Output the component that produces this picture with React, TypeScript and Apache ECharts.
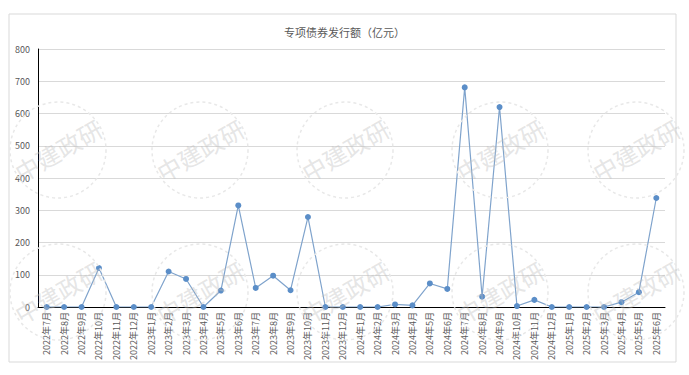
import React, { useEffect, useRef } from "react";
import * as echarts from "echarts";

const categories: string[] = [
  "2022年7月", "2022年8月", "2022年9月", "2022年10月", "2022年11月", "2022年12月",
  "2023年1月", "2023年2月", "2023年3月", "2023年4月", "2023年5月", "2023年6月",
  "2023年7月", "2023年8月", "2023年9月", "2023年10月", "2023年11月", "2023年12月",
  "2024年1月", "2024年2月", "2024年3月", "2024年4月", "2024年5月", "2024年6月",
  "2024年7月", "2024年8月", "2024年9月", "2024年10月", "2024年11月", "2024年12月",
  "2025年1月", "2025年2月", "2025年3月", "2025年4月", "2025年5月", "2025年6月",
];

const issuance: number[] = [
  0, 0, 0, 121, 0, 0,
  0, 110, 87, 0, 51, 315,
  59, 97, 52, 279, 0, 0,
  0, 0, 8, 5, 73, 56,
  681, 32, 620, 3, 22, 0,
  0, 0, 0, 15, 46, 338,
];

const yTicks = { min: 0, max: 800, interval: 100 };

const watermarkX = [58, 200, 345, 500, 636];
const watermarkY = [150, 292];

export default function App() {
  const ref = useRef<HTMLDivElement>(null);
  useEffect(() => {
    document.body.style.margin = "0";
    if (!ref.current) return;
    const chart = echarts.init(ref.current, null, { renderer: "svg" });
    const font = "'Noto Sans CJK SC', 'Noto Sans', sans-serif";
    const marks: any[] = [];
    watermarkY.forEach((cy) =>
      watermarkX.forEach((cx) => {
        marks.push({
          type: "circle",
          shape: { cx, cy, r: 48 },
          style: { fill: "none", stroke: "#e8e8e8", lineWidth: 1.5, lineDash: [3, 3] },
          silent: true,
          z: 100,
        });
        marks.push({
          type: "text",
          x: cx,
          y: cy,
          rotation: Math.PI / 6,
          silent: true,
          z: 100,
          style: {
            text: "中建政研",
            fontSize: 24,
            fontFamily: font,
            fill: "rgba(190,190,190,0.4)",
            align: "center",
            verticalAlign: "middle",
          },
        });
      })
    );
    marks.push({
      type: "rect",
      shape: { x: 9, y: 14, width: 667, height: 348 },
      style: { fill: "none", stroke: "#d9d9d9", lineWidth: 1 },
      silent: true,
      z: -1,
    });
    chart.setOption({
      animation: false,
      backgroundColor: "#ffffff",
      title: {
        text: "专项债券发行额（亿元）",
        left: "center",
        top: 21,
        textStyle: { fontSize: 11, fontWeight: "normal", color: "#595959", fontFamily: font },
      },
      grid: { left: 38, right: 24, top: 49, bottom: 68 },
      xAxis: {
        type: "category",
        data: categories,
        boundaryGap: true,
        axisLine: { lineStyle: { color: "#000000", width: 1 } },
        axisTick: { inside: true, length: 3, lineStyle: { color: "#000000" } },
        axisLabel: {
          interval: 0,
          rotate: 90,
          fontSize: 9,
          color: "#595959",
          fontFamily: font,
          margin: 5,
        },
      },
      yAxis: {
        type: "value",
        min: yTicks.min,
        max: yTicks.max,
        interval: yTicks.interval,
        axisLine: { show: true, lineStyle: { color: "#000000", width: 1 } },
        axisTick: { show: false },
        axisLabel: { fontSize: 9, color: "#595959", fontFamily: font, margin: 8 },
        splitLine: { lineStyle: { color: "#d9d9d9", width: 1 } },
      },
      series: [
        {
          type: "line",
          data: issuance,
          symbol: "circle",
          symbolSize: 6,
          lineStyle: { color: "#7fa3cc", width: 1.2 },
          itemStyle: { color: "#5b8ec8" },
          z: 3,
        },
      ],
      graphic: marks,
    });
    return () => chart.dispose();
  }, []);
  return <div ref={ref} style={{ width: 689, height: 375 }} />;
}
